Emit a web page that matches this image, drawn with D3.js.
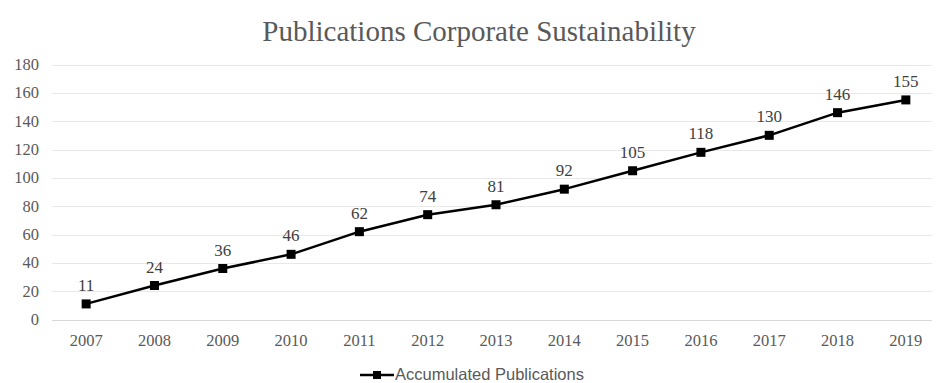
<!doctype html>
<html>
  <head>
    <script src="https://cdnjs.cloudflare.com/ajax/libs/d3/7.8.5/d3.min.js"></script>
    <style>
      body { margin: 0; background: #fff; }
    </style>
  </head>
  <body>
    <svg width="938" height="383"></svg>
    <script>
      var years = ["2007", "2008", "2009", "2010", "2011", "2012", "2013", "2014", "2015", "2016", "2017", "2018", "2019"];
      var accumulated = [11, 24, 36, 46, 62, 74, 81, 92, 105, 118, 130, 146, 155];
      var yTicks = [0, 20, 40, 60, 80, 100, 120, 140, 160, 180];

      var svg = d3.select("svg");
      var plotLeft = 52, plotRight = 940, plotTop = 64.5, plotBottom = 319.5;

      var x = d3.scaleBand().domain(years).range([plotLeft, plotRight]);
      var y = d3.scaleLinear().domain([0, 180]).range([plotBottom, plotTop]);

      // gridlines
      svg.append("g")
        .selectAll("line")
        .data(yTicks)
        .enter().append("line")
          .attr("x1", plotLeft).attr("x2", 932)
          .attr("y1", d => Math.round(y(d)) + 0.5)
          .attr("y2", d => Math.round(y(d)) + 0.5)
          .style("stroke", d => d === 0 ? "#d9d9d9" : "#e8e8e8");

      svg.selectAll("text.ylab")
        .data(yTicks)
        .enter().append("text")
          .attr("class", "ylab")
          .attr("x", 39)
          .attr("y", d => y(d) + 5.5)
          .attr("text-anchor", "end")
          .style("font-family", "Liberation Serif")
          .style("font-size", "16.5px")
          .style("fill", "#595959")
          .text(d => d);

      svg.selectAll("text.xlab")
        .data(years)
        .enter().append("text")
          .attr("class", "xlab")
          .attr("x", d => x(d) + x.bandwidth() / 2)
          .attr("y", 346)
          .attr("text-anchor", "middle")
          .style("font-family", "Liberation Serif")
          .style("font-size", "16.5px")
          .style("fill", "#595959")
          .text(d => d);

      svg.append("text")
        .attr("x", 479)
        .attr("y", 41)
        .attr("text-anchor", "middle")
        .style("font-family", "Liberation Serif")
        .style("font-size", "29px")
        .style("fill", "#595959")
        .text("Publications Corporate Sustainability");

      var pts = years.map((d, i) => ({ year: d, v: accumulated[i] }));

      var line = d3.line()
        .x(d => x(d.year) + x.bandwidth() / 2)
        .y(d => y(d.v));

      svg.append("path")
        .datum(pts)
        .attr("d", line)
        .style("fill", "none")
        .style("stroke", "#000")
        .style("stroke-width", 2.5)
        .style("stroke-linejoin", "round");

      svg.selectAll("rect.pt")
        .data(pts)
        .enter().append("rect")
          .attr("class", "pt")
          .attr("x", d => x(d.year) + x.bandwidth() / 2 - 4.5)
          .attr("y", d => y(d.v) - 4.5)
          .attr("width", 9).attr("height", 9)
          .style("fill", "#000");

      svg.selectAll("text.val")
        .data(pts)
        .enter().append("text")
          .attr("class", "val")
          .attr("x", d => x(d.year) + x.bandwidth() / 2)
          .attr("y", d => y(d.v) - 13)
          .attr("text-anchor", "middle")
          .style("font-family", "Liberation Serif")
          .style("font-size", "17px")
          .style("fill", "#404040")
          .text(d => d.v);

      // legend
      var lg = svg.append("g").attr("transform", "translate(360,375)");
      lg.append("line").attr("x1", 0).attr("x2", 34).attr("y1", 0).attr("y2", 0)
        .style("stroke", "#000").style("stroke-width", 2.5);
      lg.append("rect").attr("x", 13).attr("y", -4).attr("width", 8).attr("height", 8).style("fill", "#000");
      lg.append("text").attr("x", 35).attr("y", 5)
        .style("font-family", "Liberation Sans")
        .style("font-size", "16.5px")
        .style("fill", "#595959")
        .text("Accumulated Publications");
    </script>
  </body>
</html>
